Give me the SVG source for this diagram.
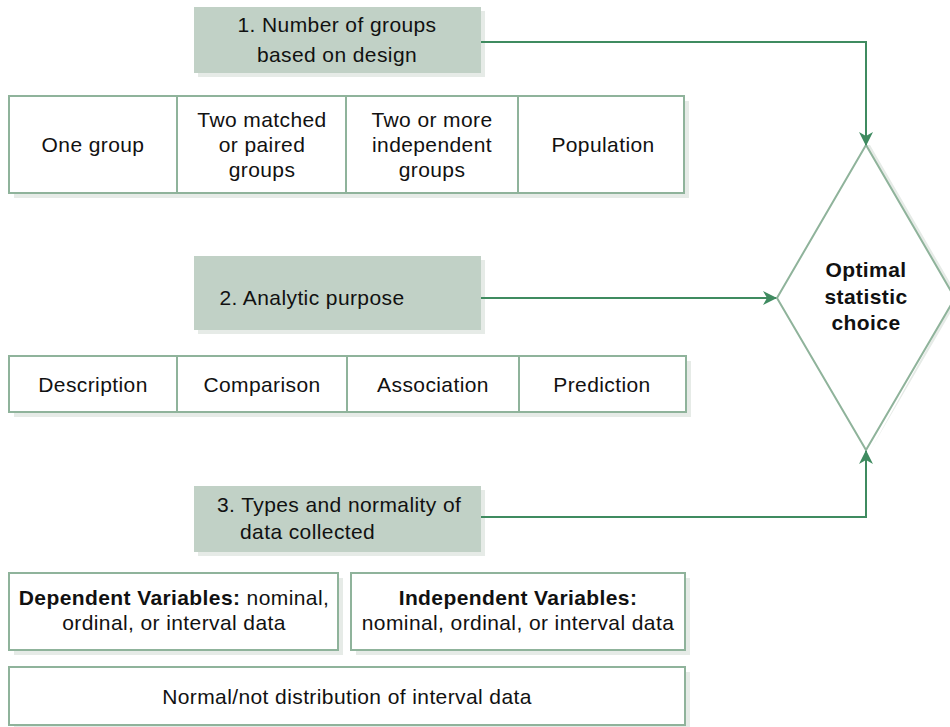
<svg xmlns="http://www.w3.org/2000/svg" width="950" height="727" viewBox="0 0 950 727">
  <defs>
    <style>
      text { font-family: "Liberation Sans", Arial, sans-serif; font-size: 21px; letter-spacing: 0.4px; fill: #111; text-anchor: middle; }
      .b { font-weight: bold; }
      .step { fill: #c1d1c6; }
      .box { fill: #ffffff; stroke: #8fb39b; stroke-width: 2; }
      .div { stroke: #8fb39b; stroke-width: 2; }
      .shadow { fill: #e6ebe7; }
      .conn { fill: none; stroke: #3f8b60; stroke-width: 2; }
    </style>
    <marker id="arrow" viewBox="0 0 14 14" refX="13" refY="7" markerWidth="14" markerHeight="14" markerUnits="userSpaceOnUse" orient="auto">
      <path d="M0,0 L14,7 L0,14 L4,7 Z" fill="#3f8b60"/>
    </marker>
  </defs>

  <!-- step 1 -->
  <g id="step1">
    <rect class="shadow" x="198" y="11" width="287" height="66"/>
    <rect class="step" x="194" y="7" width="287" height="66"/>
    <text x="337" y="32">1. Number of groups</text>
    <text x="337" y="62">based on design</text>
  </g>

  <!-- group options -->
  <g id="groups">
    <rect class="shadow" x="14" y="101" width="675" height="97"/>
    <rect class="box" x="9" y="96" width="675" height="97"/>
    <line class="div" x1="177" y1="96" x2="177" y2="193"/>
    <line class="div" x1="346" y1="96" x2="346" y2="193"/>
    <line class="div" x1="518" y1="96" x2="518" y2="193"/>
    <text x="93" y="152">One group</text>
    <text x="262" y="127">Two matched</text>
    <text x="262" y="152">or paired</text>
    <text x="262" y="177">groups</text>
    <text x="432" y="127">Two or more</text>
    <text x="432" y="152">independent</text>
    <text x="432" y="177">groups</text>
    <text x="603" y="152">Population</text>
  </g>

  <!-- step 2 -->
  <g id="step2">
    <rect class="shadow" x="198" y="260" width="287" height="74"/>
    <rect class="step" x="194" y="256" width="287" height="74"/>
    <text x="312" y="305">2. Analytic purpose</text>
  </g>

  <!-- purposes -->
  <g id="purposes">
    <rect class="shadow" x="14" y="361" width="677" height="56"/>
    <rect class="box" x="9" y="356" width="677" height="56"/>
    <line class="div" x1="177" y1="356" x2="177" y2="412"/>
    <line class="div" x1="347" y1="356" x2="347" y2="412"/>
    <line class="div" x1="519" y1="356" x2="519" y2="412"/>
    <text x="93" y="392">Description</text>
    <text x="262" y="392">Comparison</text>
    <text x="433" y="392">Association</text>
    <text x="602" y="392">Prediction</text>
  </g>

  <!-- step 3 -->
  <g id="step3">
    <rect class="shadow" x="198" y="490" width="287" height="66"/>
    <rect class="step" x="194" y="486" width="287" height="66"/>
    <text x="217" y="512" style="text-anchor:start">3. Types and normality of</text>
    <text x="240" y="539" style="text-anchor:start">data collected</text>
  </g>

  <!-- variables -->
  <g id="dependent">
    <rect class="shadow" x="14" y="578" width="329" height="77"/>
    <rect class="box" x="9" y="573" width="329" height="77"/>
    <text x="174" y="605"><tspan class="b">Dependent Variables:</tspan> nominal,</text>
    <text x="174" y="630">ordinal, or interval data</text>
  </g>
  <g id="independent">
    <rect class="shadow" x="356" y="578" width="334" height="77"/>
    <rect class="box" x="351" y="573" width="334" height="77"/>
    <text x="518" y="605" class="b">Independent Variables:</text>
    <text x="518" y="630">nominal, ordinal, or interval data</text>
  </g>
  <g id="distribution">
    <rect class="shadow" x="14" y="672" width="676" height="58"/>
    <rect class="box" x="9" y="667" width="676" height="58"/>
    <text x="347" y="704">Normal/not distribution of interval data</text>
  </g>

  <!-- decision -->
  <g id="decision">
    <polygon class="shadow" points="870,145 959,298 870,451 870,451 955,298 866,145"/>
    <polygon class="box" points="866,145 955,298 866,450 777,298"/>
    <text x="866" y="277" class="b">Optimal</text>
    <text x="866" y="304" class="b">statistic</text>
    <text x="866" y="330" class="b">choice</text>
  </g>

  <!-- connectors -->
  <g id="connectors">
    <path class="conn" d="M481,42 H866 V145" marker-end="url(#arrow)"/>
    <path class="conn" d="M481,298 H776" marker-end="url(#arrow)"/>
    <path class="conn" d="M481,517 H866 V451" marker-end="url(#arrow)"/>
  </g>
</svg>
